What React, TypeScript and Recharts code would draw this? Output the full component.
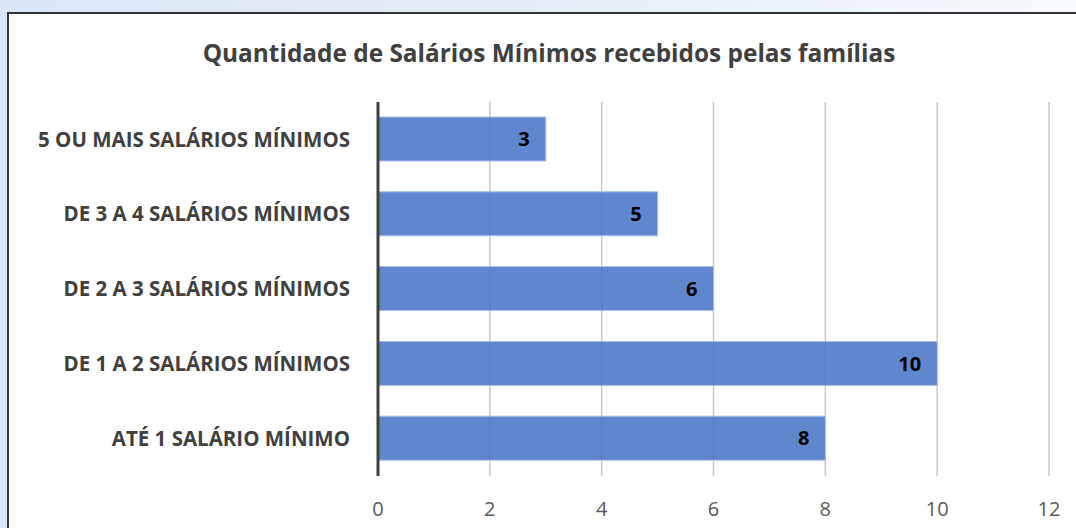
import React from 'react';
import { BarChart, Bar, XAxis, YAxis, CartesianGrid, LabelList } from 'recharts';

const faixas = [
  '5 OU MAIS SALÁRIOS MÍNIMOS',
  'DE 3 A 4 SALÁRIOS MÍNIMOS',
  'DE 2 A 3 SALÁRIOS MÍNIMOS',
  'DE 1 A 2 SALÁRIOS MÍNIMOS',
  'ATÉ 1 SALÁRIO MÍNIMO',
];
const familias = [3, 5, 6, 10, 8];
const xTicks = [0, 2, 4, 6, 8, 10, 12];

const data = faixas.map((faixa, i) => ({ faixa, familias: familias[i] }));

const font = '"Open Sans", Lato, sans-serif';

export default function App() {
  return (
    <div
      style={{
        position: 'absolute',
        left: 0,
        top: 0,
        width: 1076,
        height: 528,
        overflow: 'hidden',
        background: 'linear-gradient(to right, #d9e6f4, #e6eef8 55%, #f6f9fd)',
        fontFamily: font,
      }}
    >
      <div
        style={{
          position: 'absolute',
          left: 7,
          top: 12,
          width: 1100,
          height: 540,
          background: '#fff',
          borderLeft: '2px solid #333',
          borderTop: '2px solid #333',
        }}
      />
      <div
        style={{
          position: 'absolute',
          left: 0,
          width: 1098,
          top: 36,
          textAlign: 'center',
          fontSize: 24.4,
          fontWeight: 700,
          color: '#404040',
          lineHeight: '34px',
        }}
      >
        Quantidade de Salários Mínimos recebidos pelas famílias
      </div>
      <div style={{ position: 'absolute', left: 0, top: 0 }}>
        <BarChart
          width={1076}
          height={528}
          data={data}
          layout="vertical"
          margin={{ top: 102, right: 27, bottom: 0, left: 38 }}
          barSize={44}
        >
          <CartesianGrid horizontal={false} stroke="#c8c8c8" strokeWidth={1.5} />
          <XAxis
            type="number"
            domain={[0, 12]}
            ticks={xTicks}
            axisLine={false}
            tickLine={false}
            tickSize={0}
            tickMargin={26}
            height={52}
            tick={{ fill: '#595959', fontSize: 20, fontFamily: font }}
          />
          <YAxis
            type="category"
            dataKey="faixa"
            width={340}
            axisLine={{ stroke: '#404040', strokeWidth: 3 }}
            tickLine={false}
            tickSize={0}
            tickMargin={28}
            tick={{ fill: '#404040', fontSize: 20.5, fontWeight: 700, fontFamily: font }}
          />
          <Bar
            dataKey="familias"
            fill="#4472c4"
            fillOpacity={0.85}
            stroke="#a8bfe6"
            strokeWidth={1}
            isAnimationActive={false}
          >
            <LabelList
              dataKey="familias"
              position="insideRight"
              offset={16}
              fill="#000"
              fontSize={20}
              fontWeight={700}
              fontFamily={font}
            />
          </Bar>
        </BarChart>
      </div>
    </div>
  );
}
